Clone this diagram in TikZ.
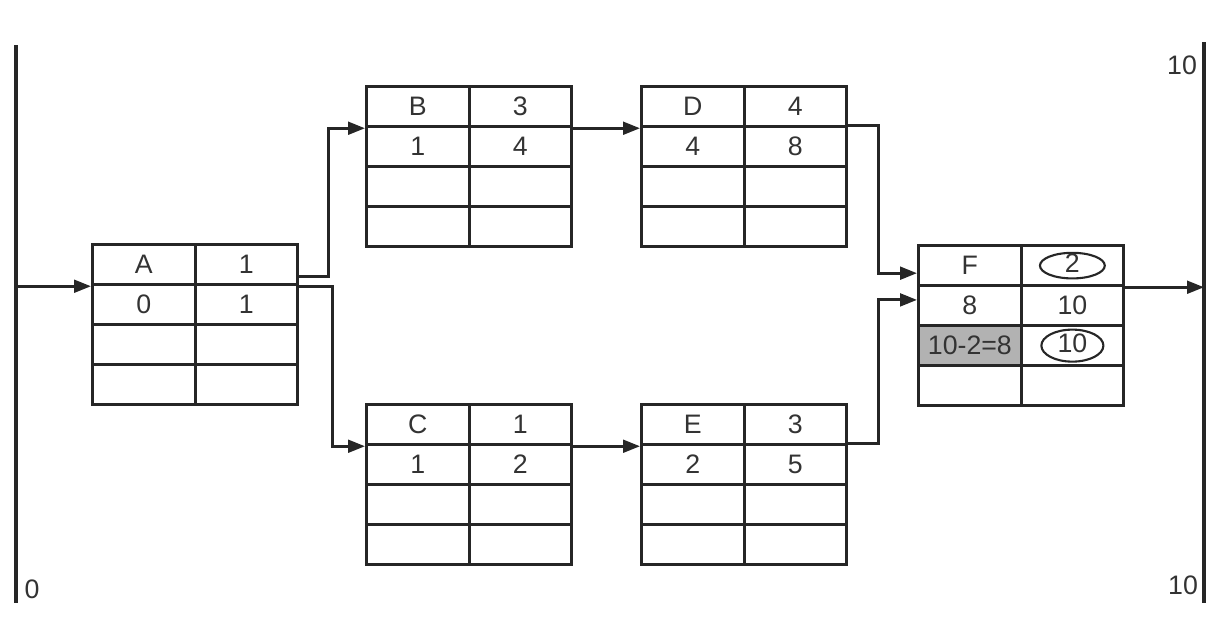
\documentclass[tikz,border=0pt]{standalone}
\usepackage{fontspec}
\setmainfont{Liberation Sans}
\usetikzlibrary{shapes.geometric}
\usetikzlibrary{arrows.meta}
\tikzset{
    cellnode/.style = {rectangle, line width=2.3pt, draw=black!85, inner sep=0, anchor=north west, minimum width=2.5625cm, minimum height=1cm, font=\fontsize{19}{22}\selectfont, text height=1.2em, text depth=0pt, text=black!80},
    cellgray/.style = {cellnode, fill=gray!60},
    marknode/.style = {ellipse, line width=1.5pt, draw=black!85, inner sep=0, font=\fontsize{19}{22}\selectfont, text height=0.95em, text depth=0pt, text=black!80},
    labnode/.style = {inner sep=0, font=\fontsize{19}{22}\selectfont, text=black!80},
    edgea/.style = {-{Triangle[length=12pt,width=9pt]}, line width=2pt, black!85},
    edgen/.style = {-, line width=2.8pt, black!85}
}
\begin{document}
\begin{tikzpicture}[x=0.025cm, y=-0.025cm]
\useasboundingbox (0,0) rectangle (1212,631);

% activity boxes
\foreach \n/\x/\y/\ta/\tb/\tc/\td in {A/91/243/A/1/0/1, B/365/85/B/3/1/4, C/365/403/C/1/1/2, D/640/85/D/4/4/8, E/640/403/E/3/2/5}{
  \node[cellnode] at (\x, \y) (\n11) {\ta};
  \node[cellnode] at (\x+102.5, \y) (\n12) {\tb};
  \node[cellnode] at (\x, \y+40) (\n21) {\tc};
  \node[cellnode] at (\x+102.5, \y+40) (\n22) {\td};
  \foreach \row in {3,4}{
    \node[cellnode] at (\x, \y+\row*40-40) (\n\row1) {};
    \node[cellnode] at (\x+102.5, \y+\row*40-40) (\n\row2) {};
  }
}

\node[cellnode] at (917, 244) (F11) {F};
\node[cellnode] at (1019.5, 244) (F12) {};
\node[cellnode] at (917, 284) (F21) {8};
\node[cellnode] at (1019.5, 284) (F22) {10};
\node[cellgray] at (917, 324) (F31) {10-2=8};
\node[cellnode] at (1019.5, 324) (F32) {};
\node[cellnode] at (917, 364) (F41) {};
\node[cellnode] at (1019.5, 364) (F42) {};
\node[marknode, minimum width=1.62cm, minimum height=0.64cm] at (F12.center) (F12m) {2};
\node[marknode, minimum width=1.55cm, minimum height=0.8cm] at (F32.center) (F32m) {10};

% time lines
\coordinate (Ltop) at (16,45);
\coordinate (Lbot) at (16,603);
\coordinate (Rtop) at (1204,42);
\coordinate (Rbot) at (1204,603);
\draw[edgen] (Ltop) -- (Lbot);
\draw[edgen] (Rtop) -- (Rbot);

\node[labnode] at (1182,65) (tend) {10};
\node[labnode] at (32,589) (tzero) {0};
\node[labnode] at (1183,585) (tlast) {10};

% links
\draw[edgea] (Ltop |- A11.south west) -- (A11.south west);
\draw[edgea] ([yshift=7pt]A12.south east) -- ++(29,0) |- (B11.south west);
\draw[edgea] (A12.south east) -- ++(33,0) |- (C11.south west);
\draw[edgea] (B12.south east) -- (D11.south west);
\draw[edgea] (C12.south east) -- (E11.south west);
\draw[edgea] ([yshift=2pt]D12.south east) -- ++(30,0) |- ([yshift=10pt]F11.south west);
\draw[edgea] ([yshift=2pt]E12.south east) -- ++(30,0) |- ([yshift=-9pt]F11.south west);
\draw[edgea] (F12.south east) -- (F12.south east -| Rtop);

\end{tikzpicture}
\end{document}
